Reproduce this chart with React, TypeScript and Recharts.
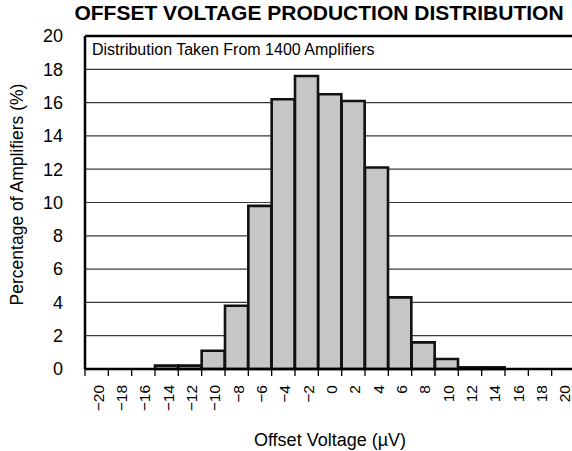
import React from "react";
import { BarChart, Bar, XAxis, YAxis, CartesianGrid, ReferenceLine, Label } from "recharts";

const categories = ["−20","−18","−16","−14","−12","−10","−8","−6","−4","−2","0","2","4","6","8","10","12","14","16","18","20"];
const percentages = [0,0,0,0.2,0.2,1.1,3.8,9.8,16.2,17.6,16.5,16.1,12.1,4.3,1.6,0.6,0.1,0.1,0,0,0];
const yTicks = [0,2,4,6,8,10,12,14,16,18,20];

const data = categories.map((c, i) => ({ cat: c, pct: percentages[i] }));

const CHART_W = 590;
const CHART_H = 451;
const MARGIN = { top: 36, right: 15, bottom: 0, left: 0 };
const YAXIS_W = 85;
const XAXIS_H = 82;
const PLOT_W = CHART_W - MARGIN.left - MARGIN.right - YAXIS_W;
const HALF_BAND = PLOT_W / categories.length / 2;
const FONT = "'Liberation Sans', Arial, Helvetica, sans-serif";

const XTick = (props: any) => {
  const { x, y, payload, index } = props;
  const isLast = index === categories.length - 1;
  return (
    <g>
      <line x1={x - HALF_BAND} x2={x - HALF_BAND} y1={y} y2={y + 7} stroke="#000" strokeWidth={1.3} />
      {isLast && <line x1={x + HALF_BAND} x2={x + HALF_BAND} y1={y} y2={y + 7} stroke="#000" strokeWidth={1.3} />}
      <text
        x={0}
        y={0}
        transform={`translate(${x + 7},${y + 16}) rotate(-90)`}
        textAnchor="end"
        fontSize={15.5}
        fontFamily={FONT}
        fill="#000"
      >
        {payload.value}
      </text>
    </g>
  );
};

export default function App() {
  return (
    <div style={{ position: "absolute", left: 0, top: 0, width: 572, height: 451, overflow: "hidden", background: "#fff" }}>
      <div
        style={{
          position: "absolute",
          left: 0,
          width: 638,
          top: 1,
          textAlign: "center",
          fontFamily: FONT,
          fontWeight: "bold",
          fontSize: 21,
          whiteSpace: "nowrap",
          color: "#000",
          zIndex: 2,
        }}
      >
        OFFSET VOLTAGE PRODUCTION DISTRIBUTION
      </div>
      <div
        style={{
          position: "absolute",
          left: 92,
          top: 41,
          fontFamily: FONT,
          fontSize: 16,
          whiteSpace: "nowrap",
          color: "#000",
          zIndex: 2,
        }}
      >
        Distribution Taken From 1400 Amplifiers
      </div>
      <BarChart width={CHART_W} height={CHART_H} data={data} margin={MARGIN} barCategoryGap={0} barGap={0}>
        <CartesianGrid vertical={false} stroke="#3a3a3a" strokeWidth={1.2} />
        <XAxis
          dataKey="cat"
          interval={0}
          height={XAXIS_H}
          tickLine={false}
          tickSize={0}
          tickMargin={0}
          tick={<XTick />}
          axisLine={{ stroke: "#000", strokeWidth: 2.5 }}
        >
          <Label value="Offset Voltage (µV)" position="insideBottom" offset={5} style={{ fontFamily: FONT, fontSize: 18, fill: "#000" }} />
        </XAxis>
        <YAxis
          domain={[0, 20]}
          ticks={yTicks}
          width={YAXIS_W}
          tickLine={false}
          tickMargin={16}
          interval={0}
          axisLine={{ stroke: "#000", strokeWidth: 2.5 }}
          tick={{ fontFamily: FONT, fontSize: 18, fill: "#000" }}
        >
          <Label
            value="Percentage of Amplifiers (%)"
            angle={-90}
            position="insideLeft"
            offset={0}
            dx={17}
            dy={-8}
            style={{ fontFamily: FONT, fontSize: 17.5, fill: "#000", textAnchor: "middle" }}
          />
        </YAxis>
        <ReferenceLine y={20} stroke="#000" strokeWidth={2.5} />
        <Bar dataKey="pct" fill="#c6c6c8" stroke="#111" strokeWidth={2.6} isAnimationActive={false} />
      </BarChart>
    </div>
  );
}
